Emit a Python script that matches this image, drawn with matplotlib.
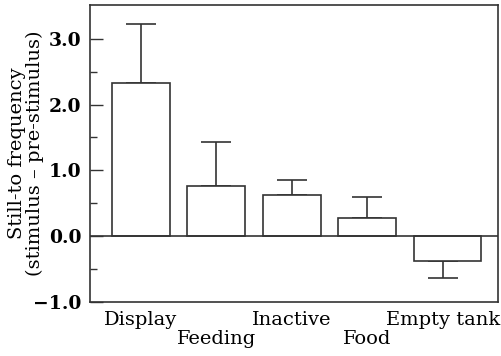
import matplotlib.pyplot as plt
import numpy as np
from matplotlib.ticker import FixedLocator, FuncFormatter

categories = ['Display', 'Feeding', 'Inactive', 'Food', 'Empty tank']
values = [2.33, 0.76, 0.62, 0.28, -0.38]
errors = [0.89, 0.67, 0.24, 0.32, 0.25]
widths = [0.77, 0.77, 0.77, 0.77, 0.89]
major_ticks = [-1.0, 0.0, 1.0, 2.0, 3.0]
minor_ticks = [-0.5, 0.5, 1.5, 2.5]

plt.rcParams['font.family'] = ['DejaVu Serif']
edge = '#333333'

fig = plt.figure(figsize=(5.02, 3.56), dpi=100)
ax = fig.add_axes([0.179, 0.152, 0.814, 0.835])

x = np.arange(len(categories))
lefts = x - 0.385
ax.bar(lefts, values, width=widths, align='edge', color='white',
       edgecolor=edge, linewidth=1.2, zorder=2)
# one-sided error bars, pointing away from zero
lower = [0 if v >= 0 else e for v, e in zip(values, errors)]
upper = [e if v >= 0 else 0 for v, e in zip(values, errors)]
ax.errorbar(x, values, yerr=[lower, upper], fmt='none', ecolor=edge,
            elinewidth=1.2, capsize=10.5, capthick=1.2, zorder=1)
ax.axhline(0, color=edge, linewidth=1.2, zorder=3)

ax.set_xlim(-0.676, 4.74)
ax.set_ylim(-1.0, 3.52)
ax.yaxis.set_major_locator(FixedLocator(major_ticks))
ax.yaxis.set_minor_locator(FixedLocator(minor_ticks))
ax.yaxis.set_major_formatter(FuncFormatter(lambda v, p: f'{v:.1f}'.replace('-', '\u2212')))
ax.tick_params(axis='y', which='major', direction='in', length=9.5, width=1.0,
               color=edge, labelsize=13.5, pad=6)
ax.tick_params(axis='y', which='minor', direction='in', length=5, width=1.0,
               color=edge)
for lab in ax.get_yticklabels():
    lab.set_fontweight('semibold')

ax.set_xticks(x)
ax.set_xticklabels([])
ax.tick_params(axis='x', length=0)
for i, name in enumerate(categories):
    off = 0.03 if i % 2 == 0 else 0.095
    ax.text(i, -off, name, transform=ax.get_xaxis_transform(), ha='center',
            va='top', fontsize=14)

for s in ax.spines.values():
    s.set_color(edge)
    s.set_linewidth(1.2)

fig.text(26 / 502, 1 - 153 / 356, 'Still-to frequency\n(stimulus \u2013 pre-stimulus)',
         rotation=90, ha='center', va='center', fontsize=14, linespacing=1.05)

fig.savefig('out.png', dpi=100)
